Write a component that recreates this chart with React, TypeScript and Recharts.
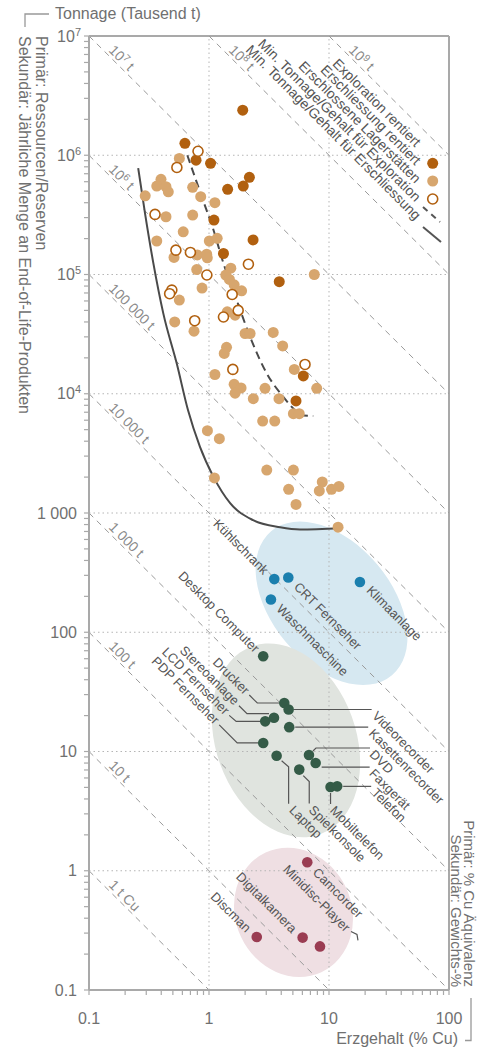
import React from "react";
import { ComposedChart, Scatter, Line, XAxis, YAxis, ReferenceLine } from "recharts";

const FONT = "'Liberation Sans', 'Helvetica Neue', Arial, sans-serif";
const INK = "#707070";
const LABEL = "#555555";
const AXIS = "#a9a9a9";

const DARK = "#b1600f";
const TAN = "#d7a66e";

// primär: [Erzgehalt % Cu, Tonnage Tausend t]
const explorationRentiert: [number, number][] = [
  [1.91, 2.39e6], [0.63, 1.26e6], [0.78, 9.1e5], [1.03, 8.55e5], [2.17, 6.53e5],
  [1.93, 5.52e5], [1.43, 5.18e5], [1.1, 2.86e5], [2.33, 1.95e5], [1.32, 1.5e5],
  [3.85, 8.7e4], [6.11, 1.41e4], [5.31, 8.7e3],
];

const erschliessungRentiert: [number, number][] = [
  [0.566, 9.4e5], [0.398, 6.28e5], [0.367, 5.52e5], [0.438, 5.45e5], [0.458, 4.94e5],
  [0.294, 4.57e5], [0.731, 5.38e5], [0.853, 4.49e5], [1.12, 4.0e5], [0.438, 3.05e5],
  [0.731, 3.15e5], [0.61, 2.28e5], [0.367, 1.91e5], [1.006, 1.91e5], [1.17, 2.01e5],
  [0.511, 1.39e5], [0.8, 1.46e5], [0.957, 1.48e5], [0.968, 1.38e5], [0.79, 1.1e5],
  [1.52, 1.13e5], [1.38, 9.9e4], [1.48, 9.1e4], [1.62, 8.2e4], [1.87, 7.3e4],
  [0.875, 7.7e4], [0.566, 6.1e4], [7.54, 1.0e5], [0.518, 4.0e4], [0.75, 3.35e4],
  [1.42, 4.86e4], [1.65, 4.56e4], [2.0, 3.2e4], [2.2, 3.2e4], [3.43, 3.27e4],
  [4.11, 2.52e4], [1.4, 2.45e4], [1.34, 2.18e4], [1.12, 1.45e4], [5.14, 1.6e4],
  [1.62, 1.2e4], [1.85, 1.12e4], [1.65, 1.01e4], [2.93, 1.11e4], [2.34, 9.1e3],
  [3.83, 9.1e3], [7.9, 1.11e4], [5.05, 6.8e3], [5.65, 6.8e3], [2.8, 5.9e3],
  [3.53, 5.9e3], [0.97, 4.9e3], [1.22, 4.2e3], [1.11, 1970], [3.03, 2290],
  [5.05, 2290], [8.79, 1820], [8.3, 1530], [4.61, 1580], [10.5, 1580],
  [12.1, 1670], [5.31, 1180], [11.9, 760],
];

const erschlosseneLager: [number, number][] = [
  [0.81, 1.08e6], [0.54, 7.9e5], [0.355, 3.19e5], [0.53, 1.6e5], [0.7, 1.53e5],
  [0.96, 9.9e4], [2.13, 1.22e5], [0.49, 7.4e4], [0.47, 6.9e4], [1.56, 6.8e4],
  [1.75, 5.0e4], [1.32, 4.4e4], [0.76, 4.1e4], [1.58, 1.6e4], [6.31, 1.76e4],
];

const minExploration: [number, number][] = [
  [0.66, 1.0e6], [0.87, 4.49e5], [1.09, 2.36e5], [1.32, 1.24e5], [1.7, 6.1e4],
  [2.2, 3.0e4], [3.03, 1.48e4], [4.16, 9.4e3], [5.05, 7.5e3], [5.73, 6.6e3], [7.39, 6.5e3],
];

const minErschliessung: [number, number][] = [
  [0.257, 7.8e5], [0.293, 3.26e5], [0.344, 1.24e5], [0.416, 4.72e4], [0.538, 1.8e4],
  [0.668, 7.3e3], [0.841, 3.59e3], [1.09, 2010], [1.5, 1210], [2.33, 871],
  [3.91, 760], [5.73, 728], [12.4, 746],
];

// sekundär: [Gewichts-%, jährliche Menge Tausend t]
const grossgeraete = [
  { name: "Kühlschrank", x: 3.5, y: 279 },
  { name: "CRT Fernseher", x: 4.58, y: 288 },
  { name: "Waschmaschine", x: 3.28, y: 188 },
  { name: "Klimaanlage", x: 18.1, y: 264 },
];
const kleingeraete = [
  { name: "Desktop Computer", x: 2.83, y: 63 },
  { name: "Drucker", x: 4.24, y: 25.5 },
  { name: "Videorecorder", x: 4.61, y: 22.5 },
  { name: "Stereoanlage", x: 3.48, y: 19.2 },
  { name: "LCD Fernseher", x: 2.94, y: 17.9 },
  { name: "Kasettenrecorder", x: 4.66, y: 16.0 },
  { name: "PDP Fernseher", x: 2.83, y: 11.8 },
  { name: "Laptop", x: 3.66, y: 9.2 },
  { name: "DVD", x: 6.81, y: 9.35 },
  { name: "Faxgerät", x: 7.74, y: 8.0 },
  { name: "Spielkonsole", x: 5.65, y: 7.05 },
  { name: "Mobiltelefon", x: 10.3, y: 5.04 },
  { name: "Telefon", x: 11.7, y: 5.1 },
];
const kleinstgeraete = [
  { name: "Camcorder", x: 6.59, y: 1.18 },
  { name: "Discman", x: 2.5, y: 0.278 },
  { name: "Digitalkamera", x: 6.03, y: 0.275 },
  { name: "Minidisc-Player", x: 8.41, y: 0.232 },
];

const groupCenters = [
  { name: "gross", x: 10.5, y: 175 },
  { name: "klein", x: 4.38, y: 12.4 },
  { name: "kleinst", x: 5.06, y: 0.448 },
];

// Linien gleicher Cu-Menge: Gehalt × Tonnage = const
const isoCu = [0.1, 1, 10, 100, 1e3, 1e4, 1e5, 1e6, 1e7, 1e8];
const isoLabels = ["1 t Cu", "10 t", "100 t", "1 000 t", "10 000 t", "100 000 t", "10^6 t", "10^7 t", "10^8 t", "10^9 t"];

const yDecades = [0.1, 1, 10, 100, 1000, 1e4, 1e5, 1e6, 1e7];
const yTickLabels = ["0.1", "1", "10", "100", "1 000", "10^4", "10^5", "10^6", "10^7"];
const xDecades = [0.1, 1, 10, 100];
const xTickLabels = ["0.1", "1", "10", "100"];

const legendItems = [
  "Exploration rentiert",
  "Erschliessung rentiert",
  "Erschlossene Lagerstätten",
  "Min. Tonnage/Gehalt für Exploration",
  "Min. Tonnage/Gehalt für Erschliessung",
];

const minor = [1, 2, 3, 4, 5, 6, 7, 8, 9];
const yTicks = yDecades.flatMap((d, i) => (i === yDecades.length - 1 ? [d] : minor.map((k) => d * k)));
const xTicks = xDecades.flatMap((d, i) => (i === xDecades.length - 1 ? [d] : minor.map((k) => d * k)));

const toPts = (a: [number, number][]) => a.map(([x, y]) => ({ x, y }));

const isoSegments = isoCu.map((c, i) => {
  const x1 = Math.max(0.1, c / 1e7);
  const x2 = Math.min(100, c / 0.1);
  return { c, label: isoLabels[i], x1, y1: c / x1, x2, y2: c / x2 };
});
const isoStarts = isoSegments.map((s) => ({ x: s.x1, y: s.y1, label: s.label }));

// label placement (pixel offsets from the dot)
type Lay = { side: "l" | "r"; at: [number, number]; lead?: [number, number][] };
const productLayout: Record<string, Lay> = {
  "Kühlschrank": { side: "l", at: [-8, -7] },
  "CRT Fernseher": { side: "r", at: [8, 7] },
  "Waschmaschine": { side: "r", at: [8, 7] },
  "Klimaanlage": { side: "r", at: [9, 6] },
  "Desktop Computer": { side: "l", at: [-6, -6] },
  "Drucker": { side: "l", at: [-37, -11], lead: [[-5, 0], [-27, 0], [-35, -8]] },
  "Stereoanlage": { side: "l", at: [-37, -15], lead: [[-5, -4], [-27, -4], [-35, -12]] },
  "LCD Fernseher": { side: "l", at: [-38, -9], lead: [[-5, 0], [-29, 0], [-36, -6]] },
  "PDP Fernseher": { side: "l", at: [-46, -21], lead: [[-5, 0], [-26, 0], [-44, -18]] },
  "Videorecorder": { side: "r", at: [86, 4], lead: [[5, 0], [83, 0]] },
  "Kasettenrecorder": { side: "r", at: [82, 4], lead: [[6, 0], [79, 0]] },
  "DVD": { side: "r", at: [63, -3], lead: [[4, -4], [7, -7], [61, -7]] },
  "Faxgerät": { side: "r", at: [56, 8], lead: [[6, 4], [54, 4]] },
  "Telefon": { side: "r", at: [37, 4], lead: [[6, 0], [34, 0]] },
  "Laptop": { side: "r", at: [15, 52], lead: [[5, 5], [12, 11], [12, 48]] },
  "Spielkonsole": { side: "r", at: [12, 38], lead: [[4, 6], [10, 12], [10, 34]] },
  "Mobiltelefon": { side: "r", at: [2, 21], lead: [[0, 6], [0, 17]] },
  "Camcorder": { side: "r", at: [8, 8] },
  "Minidisc-Player": { side: "l", at: [28, -17], lead: [[38, -6], [37, -12], [31, -15]] },
  "Digitalkamera": { side: "l", at: [-8, -7] },
  "Discman": { side: "l", at: [-8, -7] },
};

const groupLayout: Record<string, { rx: number; ry: number; rot: number; fill: string }> = {
  gross: { rx: 94, ry: 60, rot: 50, fill: "#d6e8f1" },
  klein: { rx: 100, ry: 70, rot: 70, fill: "#e0e4df" },
  kleinst: { rx: 66, ry: 58, rot: 65, fill: "#efdfe3" },
};

function withSup(s: string, size: number, rise: number) {
  const i = s.indexOf("^");
  if (i < 0) return s;
  const rest = s.slice(i + 2);
  return (
    <>
      {s.slice(0, i)}
      <tspan fontSize={size} dy={-rise}>{s[i + 1]}</tspan>
      {rest && <tspan dy={rise}>{rest}</tspan>}
    </>
  );
}

function YTick(props: any) {
  const { x, y, payload } = props;
  const i = yDecades.indexOf(payload.value);
  if (i < 0) return <g />;
  const lab = yTickLabels[i];
  const sup = lab.includes("^");
  return (
    <text x={sup ? x + 4 : x} y={y} dy="0.355em" textAnchor="end" fontSize={16} fill={INK} fontFamily={FONT}>
      {withSup(lab, 11, 6)}
    </text>
  );
}

function XTick(props: any) {
  const { x, y, payload } = props;
  const i = xDecades.indexOf(payload.value);
  if (i < 0) return <g />;
  return (
    <text x={x} y={y} dy="0.71em" textAnchor="middle" fontSize={16} fill={INK} fontFamily={FONT}>
      {xTickLabels[i]}
    </text>
  );
}

function Dot({ cx, cy, color, open }: any) {
  return open ? (
    <circle cx={cx} cy={cy} r={5} fill="#fff" stroke={color} strokeWidth={1.6} />
  ) : (
    <circle cx={cx} cy={cy} r={5.5} fill={color} />
  );
}

function ProductMark({ cx, cy, payload, color }: any) {
  const lay = productLayout[payload.name];
  const tx = cx + lay.at[0];
  const ty = cy + lay.at[1];
  return (
    <g>
      {lay.lead && (
        <polyline
          points={lay.lead.map(([dx, dy]) => `${cx + dx},${cy + dy}`).join(" ")}
          fill="none"
          stroke="#555"
          strokeWidth={1.2}
        />
      )}
      <circle cx={cx} cy={cy} r={5.3} fill={color} />
      <text
        x={tx}
        y={ty}
        transform={`rotate(45 ${tx} ${ty})`}
        textAnchor={lay.side === "l" ? "end" : "start"}
        dominantBaseline="central"
        fontSize={13}
        fill={LABEL}
        fontFamily={FONT}
      >
        {payload.name}
      </text>
    </g>
  );
}

function GroupShape({ cx, cy, payload }: any) {
  const g = groupLayout[payload.name];
  return <ellipse cx={cx} cy={cy} rx={g.rx} ry={g.ry} transform={`rotate(${g.rot} ${cx} ${cy})`} fill={g.fill} />;
}

function IsoLabel({ cx, cy, payload }: any) {
  const tx = cx + 19;
  const ty = cy + 15;
  return (
    <text x={tx} y={ty} transform={`rotate(45 ${tx} ${ty})`} fontSize={14} fill="#8a8a8a" fontFamily={FONT}>
      {withSup(payload.label, 10, 5)}
    </text>
  );
}

function Overlay() {
  const lx = 418.5;
  return (
    <svg width={477} height={1050} style={{ position: "absolute", left: 0, top: 0, pointerEvents: "none" }}>
      <g fontFamily={FONT} fill={INK} fontSize={16}>
        <path d="M25,27 V14 H49" fill="none" stroke="#999" strokeWidth={1.3} />
        <text x={55} y={19}>Tonnage (Tausend t)</text>
        <text transform="translate(36,36) rotate(90)">Primär: Ressourcen/Reserven</text>
        <text transform="translate(19,36) rotate(90)">Sekundär: Jährliche Menge an End-of-Life-Produkten</text>
        <text transform="translate(464,987) rotate(90)" textAnchor="end" fontSize={15}>Primär: % Cu Äquivalenz</text>
        <text transform="translate(451,987) rotate(90)" textAnchor="end" fontSize={15}>Sekundär: Gewichts-%</text>
        <text x={458} y={1044} textAnchor="end">Erzgehalt (% Cu)</text>
        <path d="M465,1040.5 H471 V998" fill="none" stroke="#999" strokeWidth={1.3} />
      </g>
      <g fontFamily={FONT} fontSize={14} fill={LABEL}>
        {legendItems.map((t, i) => {
          const ty = 144 + 18.3 * i;
          return (
            <text key={t} x={lx} y={ty} transform={`rotate(45 ${lx} ${ty})`} textAnchor="end" dominantBaseline="central">
              {t}
            </text>
          );
        })}
      </g>
      <circle cx={432.7} cy={163.3} r={5.5} fill={DARK} />
      <circle cx={432.7} cy={181} r={5.5} fill={TAN} />
      <circle cx={432.7} cy={199} r={5} fill="#fff" stroke={DARK} strokeWidth={1.6} />
      <line x1={423} y1={207} x2={440} y2={222} stroke="#555" strokeWidth={2} strokeDasharray="6 5" />
      <line x1={423} y1={227} x2={441} y2={242} stroke="#555" strokeWidth={2} />
    </svg>
  );
}

export default function App() {
  return (
    <div style={{ position: "absolute", left: 0, top: 0, width: 477, height: 1050, background: "#fff", overflow: "hidden" }}>
      <ComposedChart width={477} height={1050} margin={{ top: 36, right: 28, bottom: 30, left: 29 }}>
        <XAxis
          dataKey="x"
          type="number"
          scale="log"
          domain={[0.1, 100]}
          allowDataOverflow
          ticks={xTicks}
          interval={0}
          tick={<XTick />}
          tickSize={5}
          tickMargin={18}
          height={30}
          axisLine={{ stroke: AXIS, strokeWidth: 2 }}
          tickLine={{ stroke: AXIS, strokeWidth: 1.2 }}
        />
        <YAxis
          dataKey="y"
          type="number"
          scale="log"
          domain={[0.1, 1e7]}
          allowDataOverflow
          ticks={yTicks}
          interval={0}
          tick={<YTick />}
          tickSize={5}
          tickMargin={7}
          width={60}
          axisLine={{ stroke: AXIS, strokeWidth: 2 }}
          tickLine={{ stroke: AXIS, strokeWidth: 1.2 }}
        />

        <Scatter data={groupCenters} shape={(p: any) => <GroupShape {...p} />} isAnimationActive={false} zIndex={-50} />

        {yDecades.slice(1, -1).map((v) => (
          <ReferenceLine key={"gy" + v} y={v} stroke="#b5b5b5" strokeDasharray="1.5 3" />
        ))}
        {[1, 10].map((v) => (
          <ReferenceLine key={"gx" + v} x={v} stroke="#b5b5b5" strokeDasharray="1.5 3" />
        ))}
        <ReferenceLine y={1e7} stroke={AXIS} strokeWidth={2} />
        <ReferenceLine x={100} stroke={AXIS} strokeWidth={2} />
        {isoSegments.map((s) => (
          <ReferenceLine
            key={"iso" + s.c}
            segment={[{ x: s.x1, y: s.y1 }, { x: s.x2, y: s.y2 }]}
            stroke="#9a9a9a"
            strokeDasharray="6 5"
            strokeWidth={1}
          />
        ))}

        <Scatter data={isoStarts} shape={(p: any) => <IsoLabel {...p} />} isAnimationActive={false} />

        <Line
          data={toPts(minErschliessung)}
          dataKey="y"
          type="monotone"
          stroke="#4a4a4a"
          strokeWidth={2}
          dot={false}
          isAnimationActive={false}
        />
        <Line
          data={toPts(minExploration)}
          dataKey="y"
          type="monotone"
          stroke="#4a4a4a"
          strokeWidth={2}
          strokeDasharray="8 5"
          dot={false}
          isAnimationActive={false}
        />

        <Scatter data={toPts(erschliessungRentiert)} shape={(p: any) => <Dot {...p} color={TAN} />} isAnimationActive={false} />
        <Scatter data={toPts(explorationRentiert)} shape={(p: any) => <Dot {...p} color={DARK} />} isAnimationActive={false} />
        <Scatter data={toPts(erschlosseneLager)} shape={(p: any) => <Dot {...p} color={DARK} open />} isAnimationActive={false} />

        <Scatter data={grossgeraete} shape={(p: any) => <ProductMark {...p} color="#1b7fae" />} isAnimationActive={false} />
        <Scatter data={kleingeraete} shape={(p: any) => <ProductMark {...p} color="#345b47" />} isAnimationActive={false} />
        <Scatter data={kleinstgeraete} shape={(p: any) => <ProductMark {...p} color="#9a3c52" />} isAnimationActive={false} />
      </ComposedChart>
      <Overlay />
    </div>
  );
}
